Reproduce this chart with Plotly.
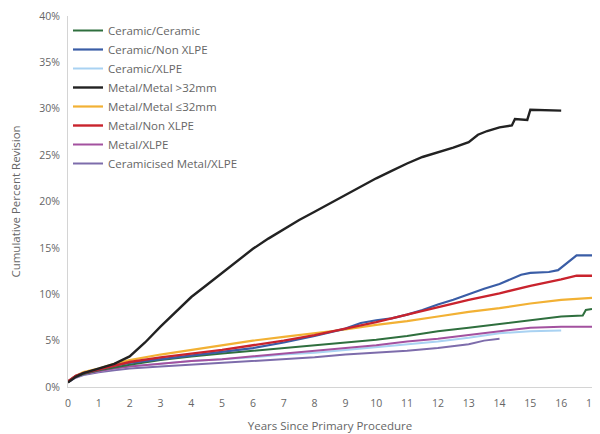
import plotly.graph_objects as go

names = ["Ceramic/Ceramic", "Ceramic/Non XLPE", "Ceramic/XLPE", "Metal/Metal >32mm",
         "Metal/Metal ≤32mm", "Metal/Non XLPE", "Metal/XLPE", "Ceramicised Metal/XLPE"]
colors = ["#2f6f3e", "#3a5da6", "#a9d2f2", "#222222", "#f2b134", "#c9232d", "#a3519f", "#7d6cab"]

years_std = [0, 0.25, 0.5, 1, 1.5, 2, 3, 4, 5, 6, 7, 8, 9, 10, 11, 12, 13, 14, 15, 16, 17]

cc_x = years_std[:-1] + [16.7, 16.8, 17]
cc_y = [0.5, 1.1, 1.4, 1.8, 2.1, 2.4, 2.9, 3.3, 3.6, 3.9, 4.2, 4.5, 4.8, 5.1, 5.5, 6.0, 6.4, 6.8, 7.2, 7.6, 7.7, 8.3, 8.4]

cn_x = [0, 0.25, 0.5, 1, 1.5, 2, 3, 4, 5, 6, 7, 8, 9, 9.5, 10, 10.5, 11, 11.5, 12, 12.5, 13, 13.5, 14,
        14.2, 14.7, 15.0, 15.6, 15.9, 16.2, 16.5, 17]
cn_y = [0.6, 1.2, 1.5, 1.9, 2.3, 2.6, 3.0, 3.4, 3.8, 4.2, 4.8, 5.5, 6.3, 6.9, 7.2, 7.4, 7.8, 8.3, 8.9, 9.4,
        10.0, 10.6, 11.1, 11.4, 12.1, 12.3, 12.4, 12.6, 13.4, 14.2, 14.2]

cx_x = [0, 0.25, 0.5, 1, 1.5, 2, 3, 4, 5, 6, 7, 8, 9, 10, 11, 12, 13, 14, 15, 16]
cx_y = [0.5, 1.1, 1.4, 1.7, 2.0, 2.2, 2.5, 2.8, 3.0, 3.2, 3.5, 3.7, 4.0, 4.3, 4.6, 4.9, 5.3, 5.8, 6.0, 6.1]

mm_x = [0, 0.25, 0.5, 1, 1.5, 2, 2.5, 3, 3.5, 4, 4.5, 5, 5.5, 6, 6.5, 7, 7.5, 8, 8.5, 9, 9.5, 10,
        10.5, 11, 11.5, 12, 12.5, 13, 13.3, 13.6, 14, 14.4, 14.5, 14.9, 15.0, 16.0]
mm_y = [0.5, 1.1, 1.5, 2.0, 2.5, 3.3, 4.8, 6.5, 8.1, 9.7, 11.0, 12.3, 13.6, 14.9, 16.0, 17.0, 18.0, 18.9,
        19.8, 20.7, 21.6, 22.5, 23.3, 24.1, 24.8, 25.3, 25.8, 26.4, 27.2, 27.6, 28.0, 28.2, 28.9, 28.8,
        29.9, 29.8]

ms_x = years_std
ms_y = [0.6, 1.2, 1.6, 2.0, 2.5, 2.9, 3.5, 4.0, 4.5, 5.0, 5.4, 5.8, 6.2, 6.7, 7.1, 7.6, 8.1, 8.5, 9.0, 9.4, 9.6]

mn_x = years_std[:-1] + [16.5, 17]
mn_y = [0.6, 1.2, 1.5, 1.9, 2.3, 2.7, 3.2, 3.6, 4.0, 4.5, 5.0, 5.6, 6.3, 7.0, 7.8, 8.6, 9.4, 10.1, 10.9,
        11.6, 12.0, 12.0]

mx_x = years_std
mx_y = [0.5, 1.1, 1.4, 1.7, 2.0, 2.2, 2.5, 2.8, 3.0, 3.3, 3.6, 3.9, 4.2, 4.5, 4.9, 5.2, 5.6, 6.0, 6.4, 6.5, 6.5]

cm_x = [0, 0.25, 0.5, 1, 1.5, 2, 3, 4, 5, 6, 7, 8, 9, 10, 11, 12, 13, 13.5, 14]
cm_y = [0.5, 1.0, 1.3, 1.6, 1.8, 2.0, 2.2, 2.4, 2.6, 2.8, 3.0, 3.2, 3.5, 3.7, 3.9, 4.2, 4.6, 5.0, 5.2]

series_x = [cc_x, cn_x, cx_x, mm_x, ms_x, mn_x, mx_x, cm_x]
series_y = [cc_y, cn_y, cx_y, mm_y, ms_y, mn_y, mx_y, cm_y]
widths = [2, 2.2, 2, 2.4, 2.2, 2.4, 2, 2]

x_ticks = list(range(0, 18))
y_ticks = list(range(0, 41, 5))
y_labels = [f"{v}%" for v in y_ticks]

fig = go.Figure()
order = [7, 2, 6, 0, 4, 1, 5, 3]
for i in order:
    fig.add_trace(go.Scatter(x=series_x[i], y=series_y[i], mode="lines", name=names[i],
                             line=dict(color=colors[i], width=widths[i]), legendrank=i + 1))

txt = "#666666"
fig.update_layout(
    width=592, height=426,
    margin=dict(l=60, r=8, t=8, b=47),
    paper_bgcolor="white", plot_bgcolor="white",
    font=dict(family="Open Sans, Arial, sans-serif", size=11, color=txt),
    showlegend=True,
    legend=dict(x=0.0, y=1.0, xanchor="left", yanchor="top",
                bgcolor="rgba(0,0,0,0)",
                font=dict(size=11.5, color=txt), tracegroupgap=0, itemwidth=30,
                traceorder="normal"),
    xaxis=dict(range=[0, 17], tickvals=x_ticks, ticktext=[str(v) for v in x_ticks],
               automargin=False, ticklabelstandoff=6,
               showgrid=False, zeroline=False, showline=True, linecolor="#d4d4d4", linewidth=1,
               ticks="", tickfont=dict(size=10.5, color=txt),
               title=dict(text="Years Since Primary Procedure", font=dict(size=11.5, color=txt),
                          standoff=13)),
    yaxis=dict(range=[0, 40], tickvals=y_ticks, ticktext=y_labels,
               automargin=False, ticklabelstandoff=5,
               showgrid=False, zeroline=False, showline=True, linecolor="#d4d4d4", linewidth=1,
               ticks="", tickfont=dict(size=10.5, color=txt),
               title=dict(text="Cumulative Percent Revision", font=dict(size=11.5, color=txt),
                          standoff=22)),
)

fig.write_html("out.html")
